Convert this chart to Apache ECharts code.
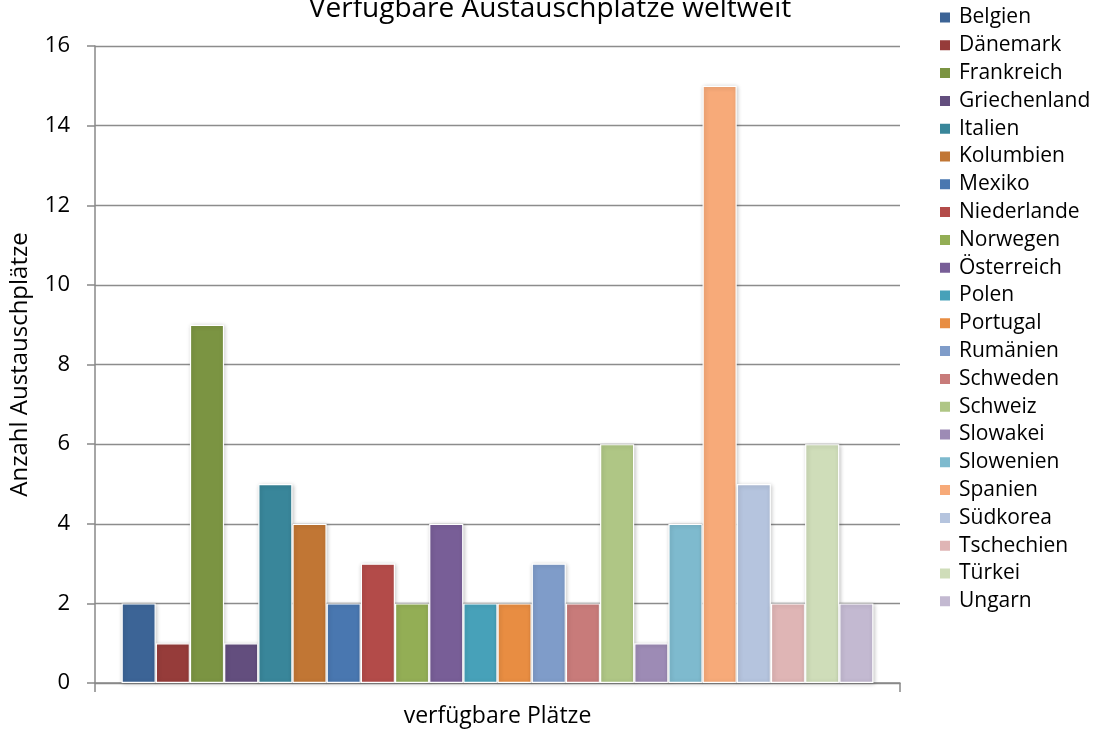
<!DOCTYPE html>
<html>
<head>
<meta charset="utf-8">
<script src="https://cdn.jsdelivr.net/npm/echarts@6/dist/echarts.min.js"></script>
<style>
  html, body { margin: 0; padding: 0; background: #ffffff; }
  #chart { width: 1095px; height: 733px; }
</style>
</head>
<body>
<div id="chart"></div>
<script>
// Verfügbare Austauschplätze je Land
const categories = ['verfügbare Plätze'];
const countries = ['Belgien', 'Dänemark', 'Frankreich', 'Griechenland', 'Italien', 'Kolumbien',
  'Mexiko', 'Niederlande', 'Norwegen', 'Österreich', 'Polen', 'Portugal', 'Rumänien',
  'Schweden', 'Schweiz', 'Slowakei', 'Slowenien', 'Spanien', 'Südkorea', 'Tschechien',
  'Türkei', 'Ungarn'];
const places = [2, 1, 9, 1, 5, 4, 2, 3, 2, 4, 2, 2, 3, 2, 6, 1, 4, 15, 5, 2, 6, 2];
const colors = ['#3c6496', '#963c3a', '#7b9442', '#634e7e', '#39869a', '#c17634',
  '#4977b0', '#b34b49', '#93ae55', '#785e97', '#47a1b9', '#e88d42', '#7f9cc9',
  '#c87b7a', '#afc685', '#9d8bb5', '#7ebace', '#f7aa79', '#b5c4de', '#dfb5b5',
  '#cfddb9', '#c3b9d1'];
const yTicks = { min: 0, max: 16, interval: 2 };

const font = '"Open Sans", "Liberation Sans", sans-serif';
const axisGray = '#888888';

const series = countries.map((name, i) => ({
  name: name,
  type: 'bar',
  data: [places[i]],
  barGap: '0%',
  barCategoryGap: '6.6%',
  itemStyle: {
    color: colors[i],
    borderColor: '#ffffff',
    borderWidth: 1.2,
    shadowColor: 'rgba(0,0,0,0.22)',
    shadowBlur: 4,
    shadowOffsetX: 1,
    shadowOffsetY: 1
  }
}));

const chart = echarts.init(document.getElementById('chart'), null, { renderer: 'canvas' });
chart.setOption({
  animation: false,
  backgroundColor: '#ffffff',
  color: colors,
  title: {
    text: 'Verfügbare Austauschplätze weltweit',
    left: 545,
    textAlign: 'center',
    top: -10,
    textStyle: { fontFamily: font, fontSize: 28, fontWeight: 'normal', color: '#000000' }
  },
  legend: {
    orient: 'vertical',
    left: 938,
    top: 7,
    padding: 0,
    itemWidth: 12,
    itemHeight: 12,
    itemGap: 6.8,
    icon: 'rect',
    data: countries,
    textStyle: { fontFamily: font, fontSize: 21, color: '#000000', lineHeight: 20, padding: [0, 0, 0, 3] }
  },
  grid: { left: 95, right: 195, top: 46, bottom: 50, containLabel: false, outerBoundsMode: 'none' },
  xAxis: {
    type: 'category',
    data: categories,
    axisLine: { show: true, lineStyle: { color: axisGray, width: 1.5 } },
    axisTick: { show: true, length: 9, lineStyle: { color: axisGray, width: 1.5 } },
    axisLabel: { margin: 22, fontFamily: font, fontSize: 23, color: '#000000' }
  },
  yAxis: {
    type: 'value',
    min: yTicks.min,
    max: yTicks.max,
    interval: yTicks.interval,
    name: 'Anzahl Austauschplätze',
    nameLocation: 'middle',
    nameGap: 63,
    nameTextStyle: { fontFamily: font, fontSize: 24, color: '#000000' },
    axisLine: { show: true, lineStyle: { color: axisGray, width: 1.5 } },
    axisTick: { show: true, length: 8, lineStyle: { color: axisGray, width: 1.5 } },
    axisLabel: { margin: 25, fontFamily: font, fontSize: 22, color: '#000000' },
    splitLine: { show: true, lineStyle: { color: '#8c8c8c', width: 1.3 } }
  },
  series: series
});
</script>
</body>
</html>
